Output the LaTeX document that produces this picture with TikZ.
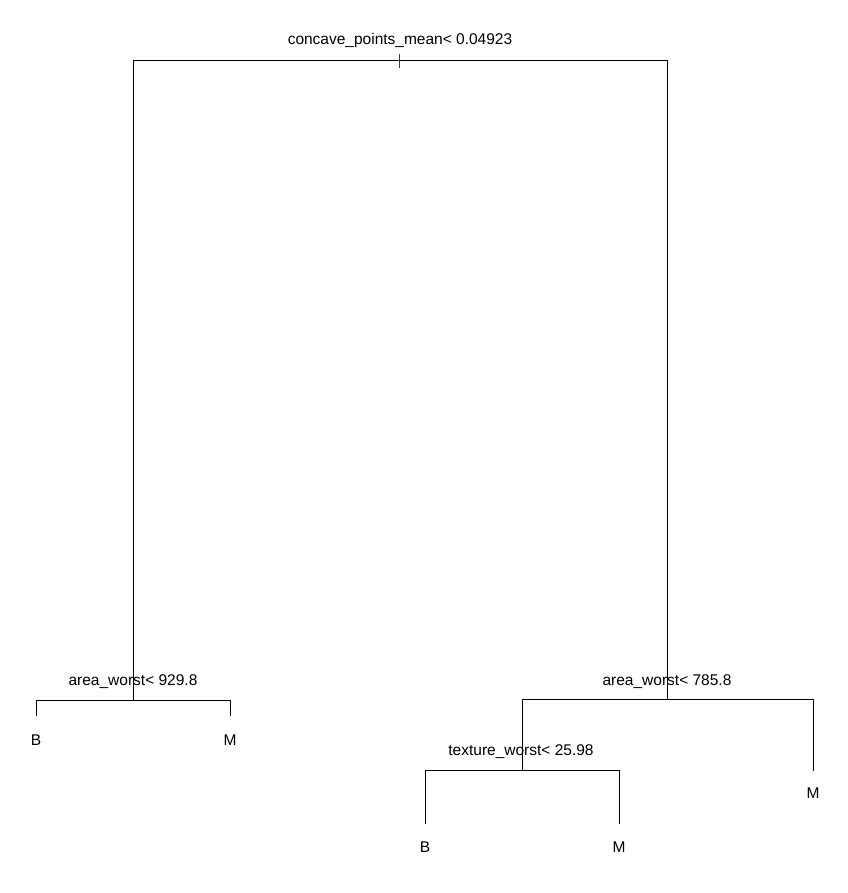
\documentclass[tikz,border=0pt]{standalone}
\usepackage{fontspec}
\setmainfont{Liberation Sans}
\begin{document}
\begin{tikzpicture}[x=1pt,y=-1pt,
  lab/.style={font=\fontsize{15.5}{18}\selectfont, anchor=base, inner sep=0pt},
  edge/.style={line width=1pt, black}]
\useasboundingbox (0,0) rectangle (847,893);
% split points (half-pixel centred for crisp 1px lines)
\coordinate (root) at (399.5,60.5);
\coordinate (rl) at (133.5,60.5);
\coordinate (rr) at (667.5,60.5);
\coordinate (n2) at (133.5,700.5);
\coordinate (n2l) at (36.5,700.5);
\coordinate (n2r) at (230.5,700.5);
\coordinate (n3) at (667.5,699.5);
\coordinate (n3l) at (522.5,699.5);
\coordinate (n3r) at (813.5,699.5);
\coordinate (n6) at (522.5,770.5);
\coordinate (n6l) at (425.5,770.5);
\coordinate (n6r) at (619.5,770.5);
% leaf ends
\coordinate (lB1) at (36.5,715.5);
\coordinate (lM1) at (230.5,715.5);
\coordinate (lM3) at (813.5,770.5);
\coordinate (lB2) at (425.5,823.5);
\coordinate (lM2) at (619.5,823.5);
% edges
\draw[edge] (n2) -- (rl) -- (rr) -- (n3);
\draw[edge] (lB1) -- (n2l) -- (n2r) -- (lM1);
\draw[edge] (n6) -- (n3l) -- (n3r) -- (lM3);
\draw[edge] (lB2) -- (n6l) -- (n6r) -- (lM2);
\draw[line width=1pt, color={rgb,255:red,140;green,20;blue,30}] (399.5,54) -- (root) -- (399.5,68);
% labels
\node[lab] (t1) at (400,45) {concave\_points\_mean< 0.04923};
\node[lab] (t2) at (133,685) {area\_worst< 929.8};
\node[lab] (t3) at (667,685) {area\_worst< 785.8};
\node[lab] (t4) at (521,755) {texture\_worst< 25.98};
\node[lab] (b1) at (36,745) {B};
\node[lab] (m1) at (230,745) {M};
\node[lab] (m3) at (813,798) {M};
\node[lab] (b2) at (425,852) {B};
\node[lab] (m2) at (619,852) {M};
\end{tikzpicture}
\end{document}
